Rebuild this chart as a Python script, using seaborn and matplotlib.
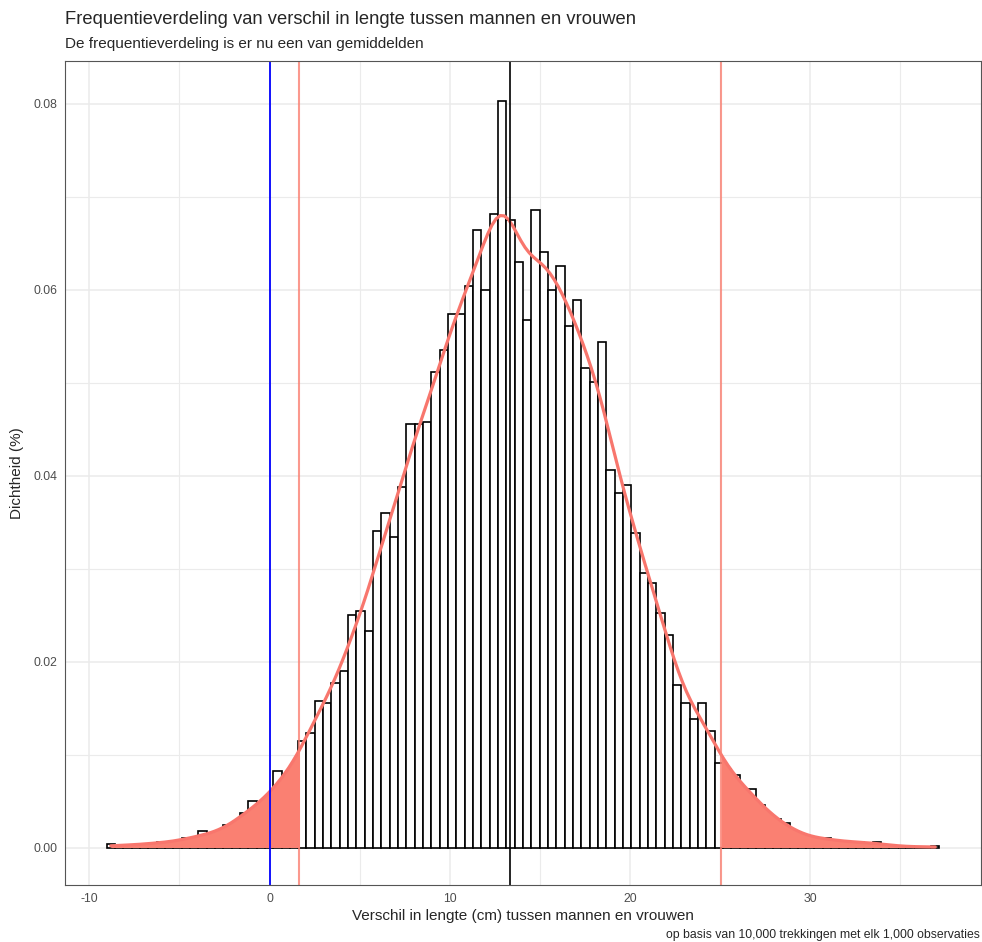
import numpy as np
import pandas as pd
import seaborn as sns
import matplotlib.pyplot as plt
from matplotlib.ticker import MultipleLocator, FormatStrFormatter

# aantal trekkingen per bin (100 bins, 10,000 trekkingen)
counts = [2, 1, 1, 1, 2, 2, 3, 2, 3, 5, 4, 8, 6, 7, 11, 12, 17, 23, 19, 24, 38, 32, 39,
          53, 57, 73, 72, 82, 88, 116, 118, 108, 158,
          167, 155, 180, 211, 211, 212, 237, 248, 266, 266,
          280, 308, 278, 316, 372, 313, 292, 263, 318, 297,
          278, 290, 260, 273, 239, 232, 252, 188, 177, 181,
          157, 137, 132, 117, 106, 81, 72, 64, 72, 58,
          42, 39, 36, 29, 29, 21, 16, 14, 12, 8, 6, 5, 4, 5, 4,
          2, 3, 3, 2, 3, 1, 1, 0, 1, 0, 0, 1]
x_min, x_max = -8.81, 36.94       # kleinste en grootste verschil
gemiddelde = 13.36
grens_laag, grens_hoog = 1.66, 25.06   # 2.5% en 97.5%

n_bins = len(counts)
w = (x_max - x_min) / (n_bins - 1)
centers = np.linspace(x_min, x_max, n_bins)
df = pd.DataFrame({'verschil': np.repeat(centers, counts)})

sns.set_style('white')
plt.rcParams['font.family'] = ['Liberation Sans', 'DejaVu Sans']
plt.rcParams['axes.unicode_minus'] = False

fig, ax = plt.subplots(figsize=(9.82, 9.42), dpi=100)
fig.subplots_adjust(left=0.0662, right=0.999, bottom=0.0605, top=0.9352)

# histogram
sns.histplot(data=df, x='verschil', stat='density', bins=n_bins,
             binrange=(x_min - w / 2, x_max + w / 2),
             color='white', edgecolor='black', linewidth=1.2, alpha=1, ax=ax)

# staarten van de dichtheid inkleuren
kde_kw = dict(data=df, x='verschil', bw_adjust=0.9, cut=0, ax=ax)
sns.kdeplot(clip=(None, grens_laag), fill=True, color='salmon', alpha=1, linewidth=0, **kde_kw)
sns.kdeplot(clip=(grens_hoog, None), fill=True, color='salmon', alpha=1, linewidth=0, **kde_kw)
# dichtheidslijn
sns.kdeplot(color='#F8766D', linewidth=2.3, **kde_kw)

ax.axvline(0, color='blue', linewidth=1.3)
ax.axvline(grens_laag, color='salmon', linewidth=1.5, alpha=0.8)
ax.axvline(grens_hoog, color='salmon', linewidth=1.5, alpha=0.8)
ax.axvline(gemiddelde, color='black', linewidth=1.2)

ax.set_xlim(-11.35, 39.48)
ax.set_ylim(-0.00403, 0.0846)
ax.xaxis.set_major_locator(MultipleLocator(10))
ax.xaxis.set_minor_locator(MultipleLocator(5))
ax.yaxis.set_major_locator(MultipleLocator(0.02))
ax.yaxis.set_minor_locator(MultipleLocator(0.01))
ax.yaxis.set_major_formatter(FormatStrFormatter('%.2f'))

ax.set_axisbelow(True)
ax.grid(which='major', color='#EBEBEB', linewidth=1.1)
ax.grid(which='minor', color='#EBEBEB', linewidth=0.8)
for s in ax.spines.values():
    s.set_color('#555555')
    s.set_linewidth(0.8)
ax.tick_params(which='major', length=3.5, width=0.8, color='#555555',
               labelsize=8.8, labelcolor='#4D4D4D', pad=2)
ax.tick_params(which='minor', length=0)

ax.set_xlabel('Verschil in lengte (cm) tussen mannen en vrouwen', fontsize=11, labelpad=3)
ax.set_ylabel('Dichtheid (%)', fontsize=11, labelpad=7)

fig.text(0.0662, 0.979, 'Frequentieverdeling van verschil in lengte tussen mannen en vrouwen',
         fontsize=13.2, va='center', ha='left')
fig.text(0.0662, 0.9533, 'De frequentieverdeling is er nu een van gemiddelden',
         fontsize=11, va='center', ha='left')
fig.text(0.998, 0.0074, 'op basis van 10,000 trekkingen met elk 1,000 observaties',
         fontsize=8.8, va='center', ha='right')

fig.savefig('out.png', dpi=100)
